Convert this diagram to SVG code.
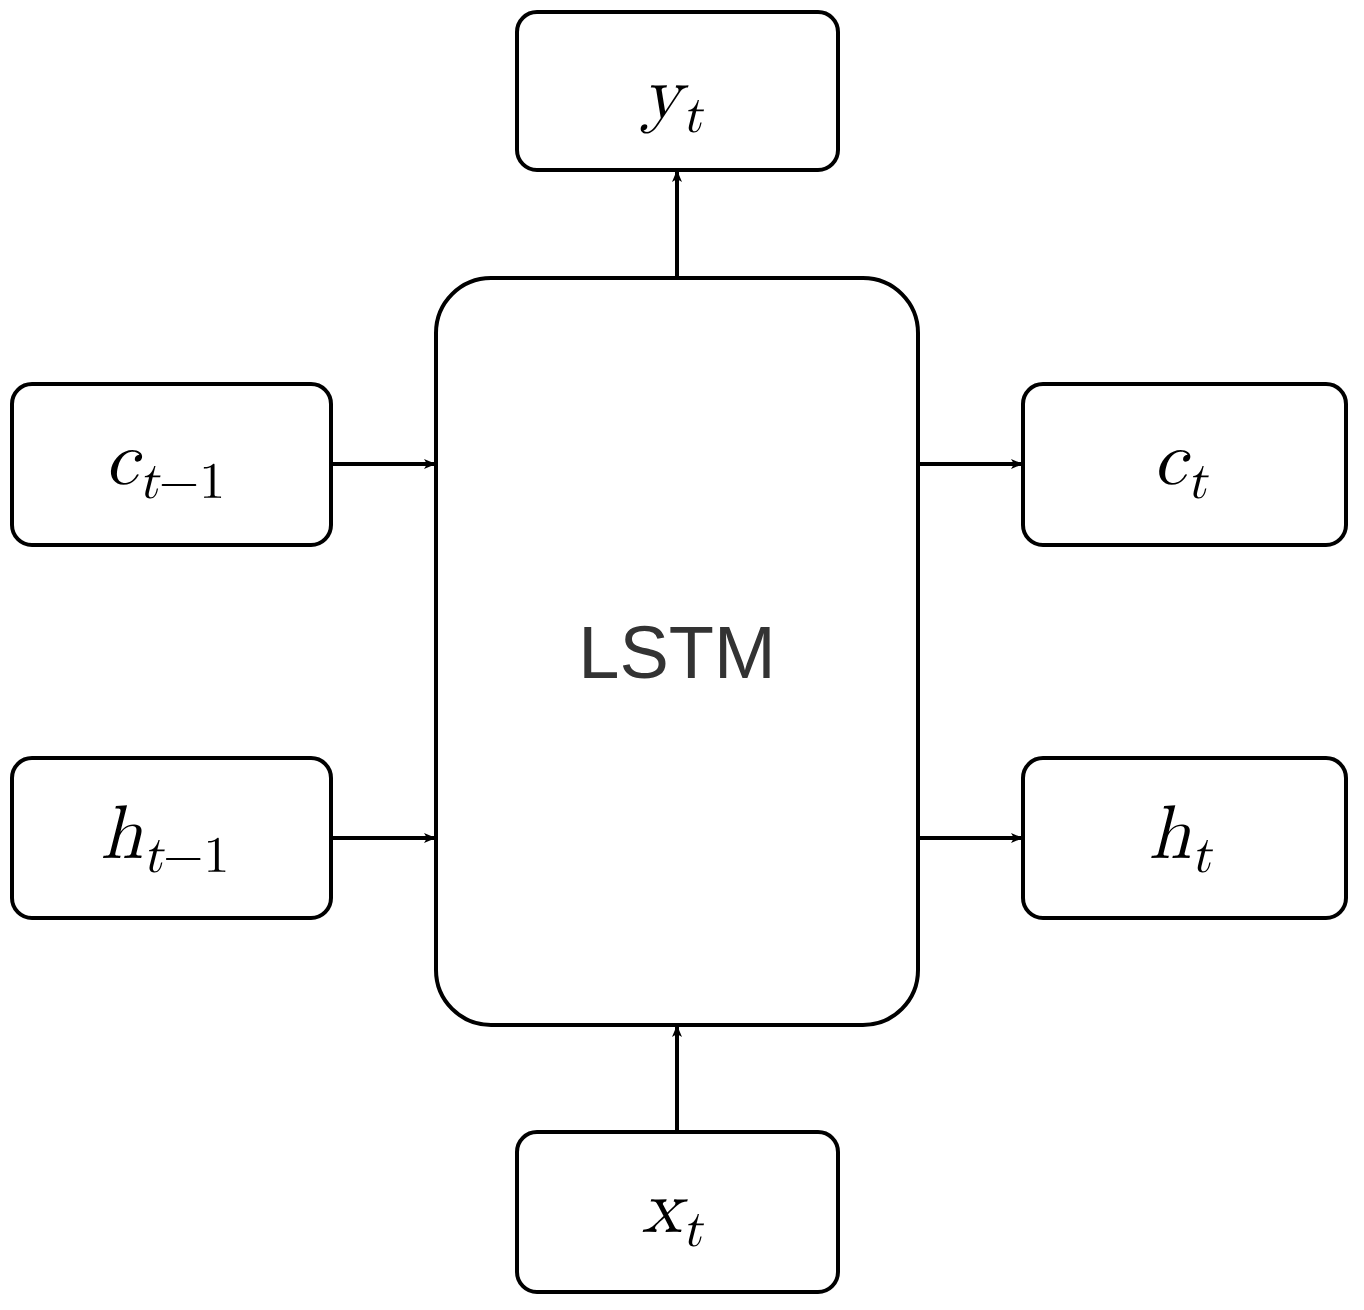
<svg xmlns="http://www.w3.org/2000/svg" width="1364" height="1310" viewBox="0 0 1364 1310">
<style>
.b{fill:#fff;stroke:#000;stroke-width:4}
.m{font-family:"Latin Modern Math","DejaVu Serif","Liberation Serif",serif;font-style:italic;font-size:76px;fill:#000}
.s{font-size:52px}
.u{font-style:normal}
.c{stroke:#000;stroke-width:4;fill:none;marker-end:url(#a)}
</style>
<defs><marker id="a" markerWidth="12" markerHeight="10" refX="10" refY="5" orient="auto" markerUnits="userSpaceOnUse" viewBox="0 0 12 10"><path d="M0,0 L12,5 L0,10 L3,5 Z" fill="#000"/></marker></defs>
<rect width="1364" height="1310" fill="#fff"/>
<g id="lstm"><rect class="b" x="436" y="278" width="482" height="747" rx="55"/><text x="677" y="678" text-anchor="middle" font-family="Liberation Sans,Arial,sans-serif" font-size="74" fill="#333">LSTM</text></g>
<g id="yt"><rect class="b" x="517" y="12" width="321" height="158" rx="20"/><text class="m" x="672" y="118" text-anchor="middle">y<tspan class="s" dy="14">t</tspan></text></g>
<g id="ct1"><rect class="b" x="12" y="384" width="319" height="161" rx="20"/><text class="m" x="165" y="484" text-anchor="middle">c<tspan class="s" dy="14">t</tspan><tspan class="s u">−1</tspan></text></g>
<g id="ht1"><rect class="b" x="12" y="758" width="319" height="160" rx="20"/><text class="m" x="165" y="858" text-anchor="middle">h<tspan class="s" dy="14">t</tspan><tspan class="s u">−1</tspan></text></g>
<g id="ct"><rect class="b" x="1023" y="384" width="323" height="161" rx="20"/><text class="m" x="1180" y="484" text-anchor="middle">c<tspan class="s" dy="14">t</tspan></text></g>
<g id="ht"><rect class="b" x="1023" y="758" width="323" height="160" rx="20"/><text class="m" x="1180" y="858" text-anchor="middle">h<tspan class="s" dy="14">t</tspan></text></g>
<g id="xt"><rect class="b" x="517" y="1132" width="321" height="160" rx="20"/><text class="m" x="672" y="1232" text-anchor="middle">x<tspan class="s" dy="14">t</tspan></text></g>
<g id="connectors">
<line class="c" x1="677" y1="278" x2="677" y2="172"/>
<line class="c" x1="331" y1="464" x2="434" y2="464"/>
<line class="c" x1="331" y1="838" x2="434" y2="838"/>
<line class="c" x1="918" y1="464" x2="1021" y2="464"/>
<line class="c" x1="918" y1="838" x2="1021" y2="838"/>
<line class="c" x1="677" y1="1132" x2="677" y2="1027"/>
</g>
</svg>
